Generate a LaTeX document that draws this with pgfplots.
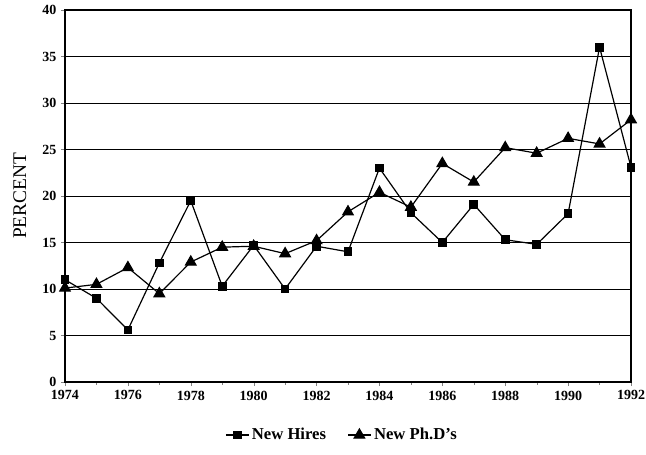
\documentclass[border=0pt]{standalone}
\usepackage{pgfplots}
\pgfplotsset{compat=1.18}
\usepackage{fontspec}
\setmainfont{Liberation Serif}
\begin{document}
\begin{tikzpicture}[x=1pt,y=1pt]
\path[use as bounding box] (-48.75,-54) rectangle (435.75,286.5);
\begin{axis}[
  at={(0,0)}, anchor=south west,
  scale only axis, width=424.5pt, height=279pt,
  xmin=1974, xmax=1992, ymin=0, ymax=40,
  xtick={1974,1976,...,1992},
  minor xtick={1975,1977,...,1991},
  ytick={0,5,...,40},
  tick align=outside, tick pos=left,
  major tick length=3pt, minor tick length=2pt,
  axis line style={line width=1.1pt},
  ymajorgrids, grid style={black, line width=0.7pt},
  /pgf/number format/assume math mode=true,
  xticklabel style={/pgf/number format/1000 sep={}, font=\bfseries\fontsize{10.5}{12}\selectfont},
  yticklabel style={font=\bfseries\fontsize{10.5}{12}\selectfont},
  ylabel={PERCENT}, ylabel style={font=\fontsize{14.5}{16}\selectfont, at={(axis description cs:-0.08,0.5)}, anchor=center},
  legend style={at={(0.49,-0.1425)}, anchor=center, draw=none, legend columns=2,
    font=\bfseries\fontsize{12.5}{14}\selectfont, /tikz/every even column/.append style={column sep=14pt}},
  legend cell align=left,
]
\addplot[black, line width=0.9pt, mark=square*, mark size=2.8pt] coordinates {
(1974,11.0) (1975,9.0) (1976,5.6) (1977,12.8) (1978,19.5) (1979,10.3) (1980,14.7)
(1981,10.0) (1982,14.6) (1983,14.0) (1984,23.0) (1985,18.2) (1986,15.0) (1987,19.1)
(1988,15.3) (1989,14.8) (1990,18.1) (1991,36.0) (1992,23.1)};
\addlegendentry{New Hires}
\addplot[black, line width=0.9pt, mark=triangle*, mark size=4.5pt] coordinates {
(1974,10.1) (1975,10.5) (1976,12.3) (1977,9.5) (1978,12.9) (1979,14.5) (1980,14.6)
(1981,13.8) (1982,15.2) (1983,18.3) (1984,20.4) (1985,18.8) (1986,23.5) (1987,21.5)
(1988,25.2) (1989,24.6) (1990,26.2) (1991,25.6) (1992,28.2)};
\addlegendentry{New Ph.D's}
\end{axis}
\end{tikzpicture}
\end{document}
